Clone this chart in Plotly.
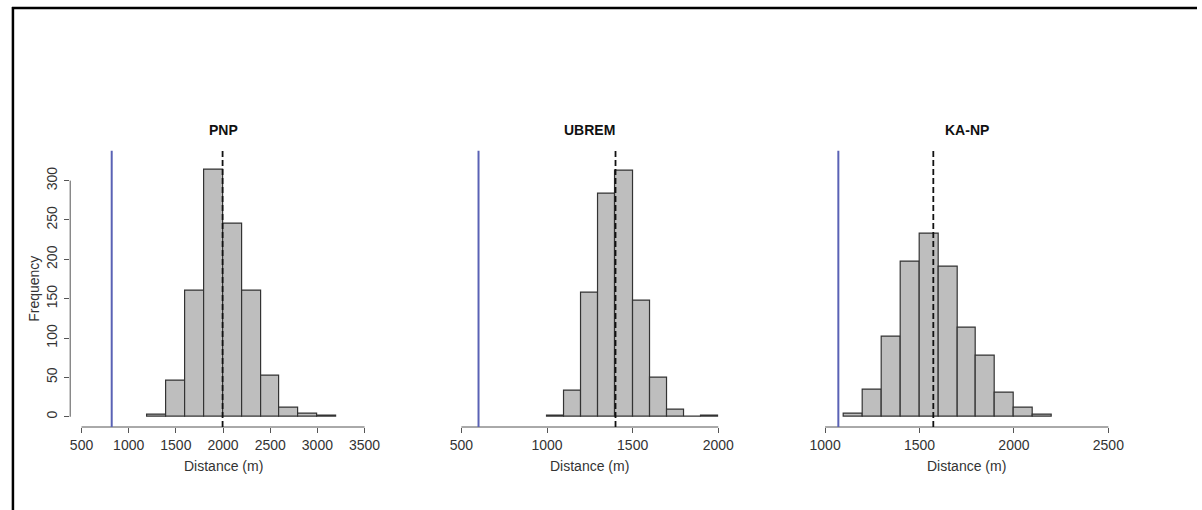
import plotly.graph_objects as go

# ---------------- data ----------------
panel_titles = ["PNP", "UBREM", "KA-NP"]

pnp_bin_left = [1200, 1400, 1600, 1800, 2000, 2200, 2400, 2600, 2800, 3000]
pnp_counts = [3, 46, 160, 314, 245, 160, 52, 12, 4, 1]
pnp_bin_width = 200

ubrem_bin_left = [1000, 1100, 1200, 1300, 1400, 1500, 1600, 1700, 1800, 1900]
ubrem_counts = [1, 33, 158, 284, 312, 148, 49, 9, 0, 1]
ubrem_bin_width = 100

kanp_bin_left = [1100, 1200, 1300, 1400, 1500, 1600, 1700, 1800, 1900, 2000, 2100]
kanp_counts = [4, 35, 102, 197, 233, 191, 113, 78, 31, 12, 2]
kanp_bin_width = 100

observed_distance = [820, 600, 1070]     # blue solid lines
mean_distance = [1995, 1400, 1573]       # black dashed lines

pnp_xticks = [500, 1000, 1500, 2000, 2500, 3000, 3500]
ubrem_xticks = [500, 1000, 1500, 2000]
kanp_xticks = [1000, 1500, 2000, 2500]
y_ticks = [0, 50, 100, 150, 200, 250, 300]

x_label = "Distance (m)"
y_label = "Frequency"

# ---------------- layout helpers ----------------
W, H = 1202, 510
FONT = "Liberation Sans, Arial, Helvetica, sans-serif"
TXT = "#333333"
AXC = "#555555"
FS = 14

panels = [
    dict(left=pnp_bin_left, counts=pnp_counts, bw=pnp_bin_width, ticks=pnp_xticks,
         rng=[380, 3620], px=(66.7, 374.7)),
    dict(left=ubrem_bin_left, counts=ubrem_counts, bw=ubrem_bin_width, ticks=ubrem_xticks,
         rng=[440, 2060], px=(450.5, 730.0)),
    dict(left=kanp_bin_left, counts=kanp_counts, bw=kanp_bin_width, ticks=kanp_xticks,
         rng=[940, 2560], px=(815.9, 1124.1)),
]

y_top_px, y_bot_px = 150.7, 427.0
y_domain = [1 - y_bot_px / H, 1 - y_top_px / H]
y_range = [-13, 338]

fig = go.Figure()
shapes = []
annotations = []

for i, p in enumerate(panels):
    n = i + 1
    xa = "x" if n == 1 else f"x{n}"
    ya = "y" if n == 1 else f"y{n}"
    centers = [l + p["bw"] / 2 for l in p["left"]]
    fig.add_trace(go.Bar(
        x=centers, y=p["counts"], width=p["bw"],
        marker=dict(color="#bebebe", line=dict(color="#333333", width=1.2)),
        xaxis=xa, yaxis=ya, showlegend=False, hoverinfo="x+y",
    ))
    dom = [p["px"][0] / W, p["px"][1] / W]
    xkey = "xaxis" if n == 1 else f"xaxis{n}"
    ykey = "yaxis" if n == 1 else f"yaxis{n}"
    fig.layout[xkey] = dict(
        domain=dom, range=p["rng"], anchor=ya,
        tickmode="array", tickvals=p["ticks"], ticktext=[str(t) for t in p["ticks"]],
        ticks="outside", ticklen=5, tickcolor=AXC, tickwidth=1,
        showline=False, showgrid=False, zeroline=False,
        tickfont=dict(family=FONT, size=FS, color=TXT),
    )
    ydict = dict(
        domain=y_domain, range=y_range, anchor=xa,
        showline=False, showgrid=False, zeroline=False,
    )
    if n == 1:
        ydict.update(
            tickmode="array", tickvals=y_ticks, ticktext=[str(t) for t in y_ticks],
            ticks="outside", ticklen=5, tickcolor=AXC, tickwidth=1, tickangle=-90,
            ticklabelstandoff=2,
            tickfont=dict(family=FONT, size=FS, color=TXT),
        )
    else:
        ydict.update(showticklabels=False, ticks="")
    fig.layout[ykey] = ydict

    # x axis line between first and last tick (R style)
    shapes.append(dict(type="line", xref=xa, yref=f"{ya} domain",
                       x0=p["ticks"][0], x1=p["ticks"][-1], y0=0, y1=0,
                       line=dict(color=AXC, width=1), layer="above"))
    if n == 1:
        shapes.append(dict(type="line", xref=f"{xa} domain", yref=ya,
                           x0=0, x1=0, y0=y_ticks[0], y1=y_ticks[-1],
                           line=dict(color=AXC, width=1), layer="above"))
    # observed value (blue) and mean (dashed)
    shapes.append(dict(type="line", xref=xa, yref=f"{ya} domain",
                       x0=observed_distance[i], x1=observed_distance[i], y0=0, y1=1,
                       line=dict(color="#5a62b5", width=2), layer="above"))
    shapes.append(dict(type="line", xref=xa, yref=f"{ya} domain",
                       x0=mean_distance[i], x1=mean_distance[i], y0=0, y1=1,
                       line=dict(color="#111111", width=1.8, dash="6px,3px"), layer="above"))

    cx = (dom[0] + dom[1]) / 2
    annotations.append(dict(text=f"<b>{panel_titles[i]}</b>", x=cx, y=1 - 130 / H,
                            xref="paper", yref="paper", showarrow=False,
                            xanchor="center", yanchor="middle",
                            font=dict(family=FONT, size=FS, color="#111111")))
    annotations.append(dict(text=x_label, x=cx, y=1 - 466 / H,
                            xref="paper", yref="paper", showarrow=False,
                            xanchor="center", yanchor="middle",
                            font=dict(family=FONT, size=FS, color=TXT)))

annotations.append(dict(text=y_label, x=30 / W, y=1 - 289 / H, textangle=-90,
                        xref="paper", yref="paper", showarrow=False,
                        xanchor="center", yanchor="middle",
                        font=dict(family=FONT, size=FS, color=TXT)))

# frame (left and top border of the original figure)
shapes.append(dict(type="line", xref="paper", yref="paper",
                   x0=9 / W, x1=9 / W, y0=0, y1=1 - 7 / H,
                   line=dict(color="black", width=2.5)))
shapes.append(dict(type="line", xref="paper", yref="paper",
                   x0=8 / W, x1=1, y0=1 - 8 / H, y1=1 - 8 / H,
                   line=dict(color="black", width=2.5)))

fig.update_layout(
    width=W, height=H, margin=dict(l=0, r=0, t=0, b=0),
    paper_bgcolor="white", plot_bgcolor="white",
    bargap=0, shapes=shapes, annotations=annotations,
    font=dict(family=FONT, color=TXT),
)

fig.write_html("out.html",
               config={"displayModeBar": False},
               post_script="document.body.style.margin='0';document.body.style.overflow='hidden';")
